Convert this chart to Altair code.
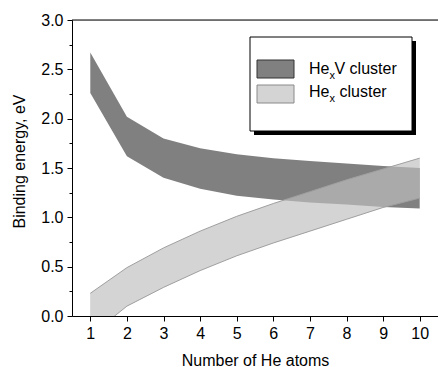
import altair as alt
import pandas as pd

# ---- data ----
n_he = [1, 2, 3, 4, 5, 6, 7, 8, 9, 10]
hev_upper = [2.67, 2.02, 1.80, 1.70, 1.64, 1.60, 1.57, 1.545, 1.52, 1.50]
hev_lower = [2.26, 1.62, 1.40, 1.29, 1.22, 1.18, 1.15, 1.13, 1.105, 1.09]
he_upper = [0.23, 0.49, 0.69, 0.86, 1.01, 1.14, 1.26, 1.38, 1.49, 1.60]
he_lower = [-0.20, 0.10, 0.29, 0.46, 0.61, 0.74, 0.86, 0.98, 1.10, 1.195]

x_ticks = [1, 2, 3, 4, 5, 6, 7, 8, 9, 10]
y_ticks = [0.0, 0.25, 0.5, 0.75, 1.0, 1.25, 1.5, 1.75, 2.0, 2.25, 2.5, 2.75, 3.0]

x_title = "Number of He atoms"
y_title = "Binding energy, eV"

df = pd.DataFrame({
    "n": n_he,
    "hev_up": hev_upper,
    "hev_lo": hev_lower,
    "he_up": he_upper,
    "he_lo": he_lower,
})

W, H = 366, 296
FONT = "Liberation Sans"
DARK = "#808080"
LIGHT = "#d4d4d4"
LIGHT_EDGE = "#a0a0a0"

xs = alt.Scale(domain=[0.5, 10.5], nice=False, zero=False)
ys = alt.Scale(domain=[0, 3], nice=False, zero=False)

x_axis = alt.Axis(
    values=x_ticks, title=x_title, grid=False,
    tickSize=5, labelPadding=4, labelFontSize=16, titleFontSize=16,
    titleFontWeight="normal", titleBaseline="alphabetic", titleY=49,
    domainColor="black", tickColor="black", labelColor="black", titleColor="black",
    labelFont=FONT, titleFont=FONT, labelFlush=False,
)
y_axis = alt.Axis(
    values=y_ticks, title=y_title, grid=False,
    labelExpr="datum.value % 0.5 === 0 ? format(datum.value, '.1f') : ''",
    tickSize={"condition": {"test": "datum.value % 0.5 !== 0", "value": 3}, "value": 5},
    labelPadding=4, labelFontSize=16, titleFontSize=16,
    titleFontWeight="normal", titleBaseline="alphabetic", titleAngle=270,
    titleAlign="center", titleX=-48, titleY=141,
    domainColor="black", tickColor="black", labelColor="black", titleColor="black",
    labelFont=FONT, titleFont=FONT, labelFlush=False,
)

base = alt.Chart(df)
X = alt.X("n:Q", scale=xs, axis=x_axis)


def band(lo, hi, **kw):
    return base.mark_area(clip=True, **kw).encode(
        x=X,
        y=alt.Y(f"{lo}:Q", scale=ys, axis=y_axis),
        y2=alt.Y2(f"{hi}:Q"),
    )


def edge(field):
    return base.mark_line(clip=True, color=LIGHT_EDGE, strokeWidth=1).encode(
        x=X,
        y=alt.Y(f"{field}:Q", scale=ys, axis=y_axis),
    )


light_under = band("he_lo", "he_up", color=LIGHT)
dark_band = band("hev_lo", "hev_up", color=DARK)
light_over = band("he_lo", "he_up", color=LIGHT, opacity=0.5)

one = alt.Data(values=[{"k": 0}])
top_line = alt.Chart(one).mark_rule(color="black", strokeWidth=1).encode(
    x=alt.value(0), x2=alt.value(W), y=alt.value(0)
)

# ---- legend (drawn by hand, Origin style) ----
shadow = alt.Chart(one).mark_rect(color="black").encode(
    x=alt.value(182), x2=alt.value(344), y=alt.value(21), y2=alt.value(115)
)
box = alt.Chart(one).mark_rect(fill="white", stroke="black", strokeWidth=1).encode(
    x=alt.value(178), x2=alt.value(340), y=alt.value(17), y2=alt.value(111)
)
sw_dark = alt.Chart(one).mark_rect(fill=DARK, stroke="#333333", strokeWidth=1).encode(
    x=alt.value(185), x2=alt.value(222), y=alt.value(40), y2=alt.value(58)
)
sw_light = alt.Chart(one).mark_rect(fill=LIGHT, stroke="#8a8a8a", strokeWidth=1).encode(
    x=alt.value(185), x2=alt.value(222), y=alt.value(65), y2=alt.value(83)
)


def txt(s, x, y, size=16):
    return alt.Chart(one).mark_text(
        align="left", baseline="alphabetic", font=FONT, fontSize=size, color="black"
    ).encode(x=alt.value(x), y=alt.value(y), text=alt.value(s))


legend = [
    shadow, box, sw_dark, sw_light,
    txt("He", 237, 53.5), txt("x", 257.5, 58.5, 11), txt("V cluster", 262.5, 53.5),
    txt("He", 237, 77), txt("x", 257.5, 82, 11), txt("cluster", 267.5, 77),
]

chart = alt.layer(
    light_under, dark_band, light_over, edge("he_up"), edge("he_lo"), top_line, *legend
).properties(
    width=W, height=H,
    autosize=alt.AutoSizeParams(type="none"),
    padding={"left": 72, "top": 20, "right": 0, "bottom": 51},
).configure_view(stroke=None).configure(background="white")

chart.save("out.html", embed_options={"renderer": "svg", "actions": False})
